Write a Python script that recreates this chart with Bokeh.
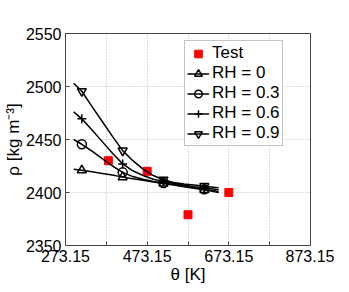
from bokeh.plotting import figure
from bokeh.models import Range1d, FixedTicker, Legend, LegendItem
from bokeh.embed import file_html
from bokeh.resources import INLINE

# ---- data ----
test_theta = [378.15, 473.15, 573.15, 673.15]
test_rho = [2430, 2420, 2379, 2400]

curve_theta = [293.15, 313.15, 338.15, 363.15, 388.15, 413.15, 438.15, 463.15,
               488.15, 513.15, 538.15, 563.15, 588.15, 613.15, 648.15]
rh0_curve = [2422, 2421, 2419.5, 2418, 2416.5, 2414.5, 2413, 2411.5,
             2410, 2408.5, 2407, 2405.5, 2404, 2402.5, 2400]
rh03_curve = [2450, 2445.5, 2439, 2432, 2425, 2419, 2415, 2412.5,
              2410.5, 2409, 2407.5, 2406, 2404.5, 2403, 2401]
rh06_curve = [2476, 2469.5, 2459, 2448, 2437, 2427, 2420.5, 2416,
              2412.5, 2410.5, 2408.5, 2407, 2405.5, 2404.5, 2402.5]
rh09_curve = [2503, 2495.5, 2481, 2467, 2453, 2439.5, 2430, 2422,
              2416, 2412, 2409.5, 2408, 2407, 2406, 2404.5]

mark_theta = [313.15, 413.15, 513.15, 613.15]
rh0_marks = [2421, 2414.5, 2408.5, 2402.5]
rh03_marks = [2445.5, 2419, 2409, 2403]
rh06_marks = [2469.5, 2427, 2410.5, 2404.5]
rh09_marks = [2495.5, 2439.5, 2412, 2406]

series_labels = ["RH = 0", "RH = 0.3", "RH = 0.6", "RH = 0.9"]
series_markers = ["triangle", "circle", "cross", "inverted_triangle"]

x_ticks = [273.15, 373.15, 473.15, 573.15, 673.15, 773.15, 873.15]
x_tick_labels = ["273.15", "", "473.15", "", "673.15", "", "873.15"]
y_ticks = [2350, 2400, 2450, 2500, 2550]

FONT = "Liberation Sans"

p = figure(frame_width=245, frame_height=212, output_backend="svg",
           toolbar_location=None,
           x_range=Range1d(273.15, 873.15), y_range=Range1d(2350, 2550),
           min_border_left=62, min_border_top=33, min_border_right=24,
           min_border_bottom=40)

p.outline_line_color = "#444444"
p.outline_line_width = 1

p.xaxis.ticker = FixedTicker(ticks=x_ticks)
p.xaxis.major_label_overrides = {t: l for t, l in zip(x_ticks, x_tick_labels)}
p.yaxis.ticker = FixedTicker(ticks=y_ticks)

for ax in (p.xaxis, p.yaxis):
    ax.axis_line_color = None
    ax.major_tick_in = 4
    ax.major_tick_out = 0
    ax.major_tick_line_color = "#444444"
    ax.minor_tick_line_color = None
    ax.major_label_text_font = FONT
    ax.major_label_text_font_size = "16px"
    ax.major_label_text_color = "black"
    ax.axis_label_text_font = FONT
    ax.axis_label_text_font_size = "17px"
    ax.axis_label_text_font_style = "normal"
    ax.axis_label_text_color = "black"
    ax.major_label_standoff = 4
    ax.axis_label_standoff = 0

p.xaxis.axis_label = "θ [K]"
p.yaxis.axis_label = "ρ [kg m⁻³]"

p.grid.grid_line_color = "#b8b8b8"
p.grid.grid_line_dash = "1 2"
p.grid.grid_line_width = 1

test_r = p.scatter(test_theta, test_rho, marker="square", size=8,
                   fill_color="#ff0000", line_color="#ff0000")

items = [LegendItem(label="Test", renderers=[test_r])]
curves = [rh0_curve, rh03_curve, rh06_curve, rh09_curve]
marks = [rh0_marks, rh03_marks, rh06_marks, rh09_marks]
for lab, mk, cv, mv in zip(series_labels, series_markers, curves, marks):
    ln = p.line(curve_theta, cv, line_color="black", line_width=1.5)
    sc = p.scatter(mark_theta, mv, marker=mk, size=9, line_color="black",
                   line_width=1.5, fill_color="white", fill_alpha=0)
    items.append(LegendItem(label=lab, renderers=[ln, sc]))

legend = Legend(items=items, location=(119, 99))
legend.label_text_font = FONT
legend.label_text_font_size = "17px"
legend.label_text_color = "black"
legend.border_line_color = "#888888"
legend.border_line_width = 1
legend.background_fill_alpha = 1
legend.glyph_width = 22
legend.glyph_height = 19
legend.label_height = 19
legend.label_standoff = 3
legend.spacing = 0
legend.padding = 2
legend.margin = 0
p.add_layout(legend, "center")

open("out.html", "w").write(file_html(p, INLINE))
